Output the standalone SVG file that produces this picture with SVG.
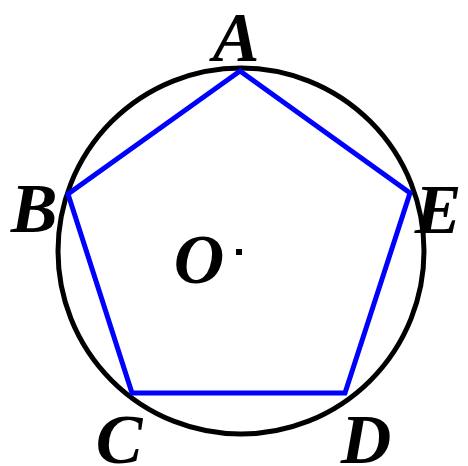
<svg xmlns="http://www.w3.org/2000/svg" width="468" height="466" viewBox="0 0 468 466">
<style>
.lbl{font-family:"Liberation Serif","Times New Roman",serif;font-weight:bold;font-style:italic;font-size:70px;fill:#000}
</style>
<rect width="468" height="466" fill="#fff"/>
<g id="circle"><circle cx="241" cy="251" r="183" fill="none" stroke="#000" stroke-width="5"/></g>
<g id="connectors"><polygon points="240,71 410,193 345,393 132,393 68,194" fill="none" stroke="#0000ff" stroke-width="5" stroke-linejoin="miter"/></g>
<g id="A"><text class="lbl" x="236" y="61" text-anchor="middle">A</text></g>
<g id="B"><text class="lbl" x="34" y="232" text-anchor="middle">B</text></g>
<g id="E"><text class="lbl" x="438" y="233" text-anchor="middle">E</text></g>
<g id="C"><text class="lbl" x="119" y="463" text-anchor="middle">C</text></g>
<g id="D"><text class="lbl" x="366" y="463" text-anchor="middle">D</text></g>
<g id="O"><text class="lbl" x="199" y="283" text-anchor="middle">O</text><rect x="236" y="249" width="6" height="6" fill="#000"/></g>
</svg>
